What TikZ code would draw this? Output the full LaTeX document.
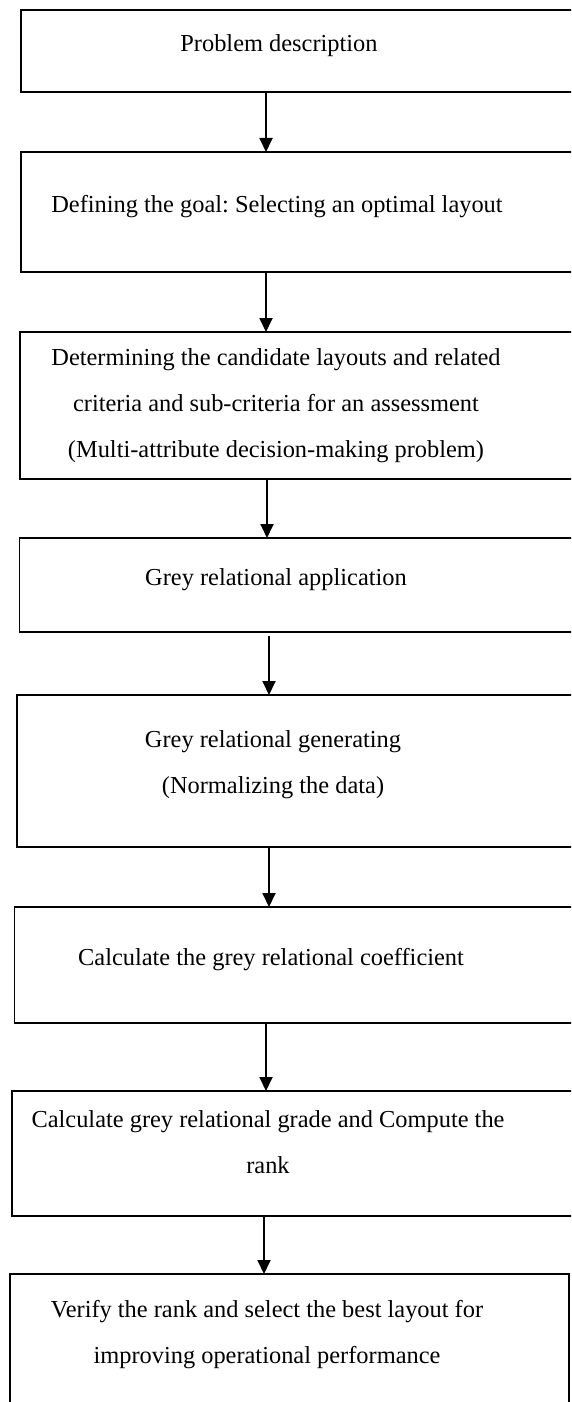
\documentclass[tikz,border=0pt]{standalone}
\usepackage{fontspec}
\setmainfont{Liberation Serif}
\usetikzlibrary{arrows.meta}
\frenchspacing
\begin{document}
\begin{tikzpicture}[x=1pt,y=1pt,
  box/.style={draw=black, line width=1.9pt, rectangle, inner sep=0pt, outer sep=0pt},
  lbl/.style={inner sep=0pt, align=center, font=\fontsize{24.4}{46}\selectfont},
  flow/.style={draw=black, line width=1.8pt, -{Triangle[width=13pt,length=14pt]}}]
\useasboundingbox (0,0) rectangle (571,-1402);
\fill[white] (0,0) rectangle (571,-1402);
\clip (0,0) rectangle (571,-1402);

% process boxes
\node[box, minimum width=559pt, minimum height=82pt]  (b1) at (300.5,-51) {};
\node[box, minimum width=559pt, minimum height=120pt] (b2) at (300.5,-212) {};
\node[box, minimum width=560pt, minimum height=147pt] (b3) at (300,-405.5) {};
\node[box, minimum width=560.5pt, minimum height=94pt] (b4) at (299.75,-585) {};
\node[box, minimum width=563pt, minimum height=152pt] (b5) at (298.5,-771) {};
\node[box, minimum width=565.5pt, minimum height=116pt] (b6) at (297.25,-965) {};
\node[box, minimum width=568pt, minimum height=125pt] (b7) at (296,-1153.5) {};
\node[box, minimum width=559pt, minimum height=146pt] (b8) at (289.5,-1347) {};

% box texts
\node[lbl] (t1) at (279,-46) {Problem description};
\node[lbl] (t2) at (277,-207) {Defining the goal: Selecting an optimal layout};
\node[lbl] (t3) at (276,-406) {Determining the candidate layouts and related\\criteria and sub-criteria for an assessment\\(Multi-attribute decision-making problem)};
\node[lbl] (t4) at (276,-580) {Grey relational application};
\node[lbl] (t5) at (273,-765) {Grey relational generating\\(Normalizing the data)};
\node[lbl] (t6) at (271,-960) {Calculate the grey relational coefficient};
\node[lbl] (t7) at (268,-1142.5) {Calculate grey relational grade and Compute the\\rank};
\node[lbl] (t8) at (267,-1335) {Verify the rank and select the best layout for\\improving operational performance};

% arrow columns
\coordinate (x12) at (266,0);
\coordinate (x23) at (266,0);
\coordinate (x34) at (267,0);
\coordinate (x45) at (269,0);
\coordinate (x56) at (269,0);
\coordinate (x67) at (266,0);
\coordinate (x78) at (264,0);

\draw[flow] (b1.south -| x12) -- (b2.north -| x12);
\draw[flow] (b2.south -| x23) -- (b3.north -| x23);
\draw[flow] (b3.south -| x34) -- (b4.north -| x34);
\draw[flow, shorten <=4pt] (b4.south -| x45) -- (b5.north -| x45);
\draw[flow] (b5.south -| x56) -- (b6.north -| x56);
\draw[flow] (b6.south -| x67) -- (b7.north -| x67);
\draw[flow] (b7.south -| x78) -- (b8.north -| x78);
\end{tikzpicture}
\end{document}
